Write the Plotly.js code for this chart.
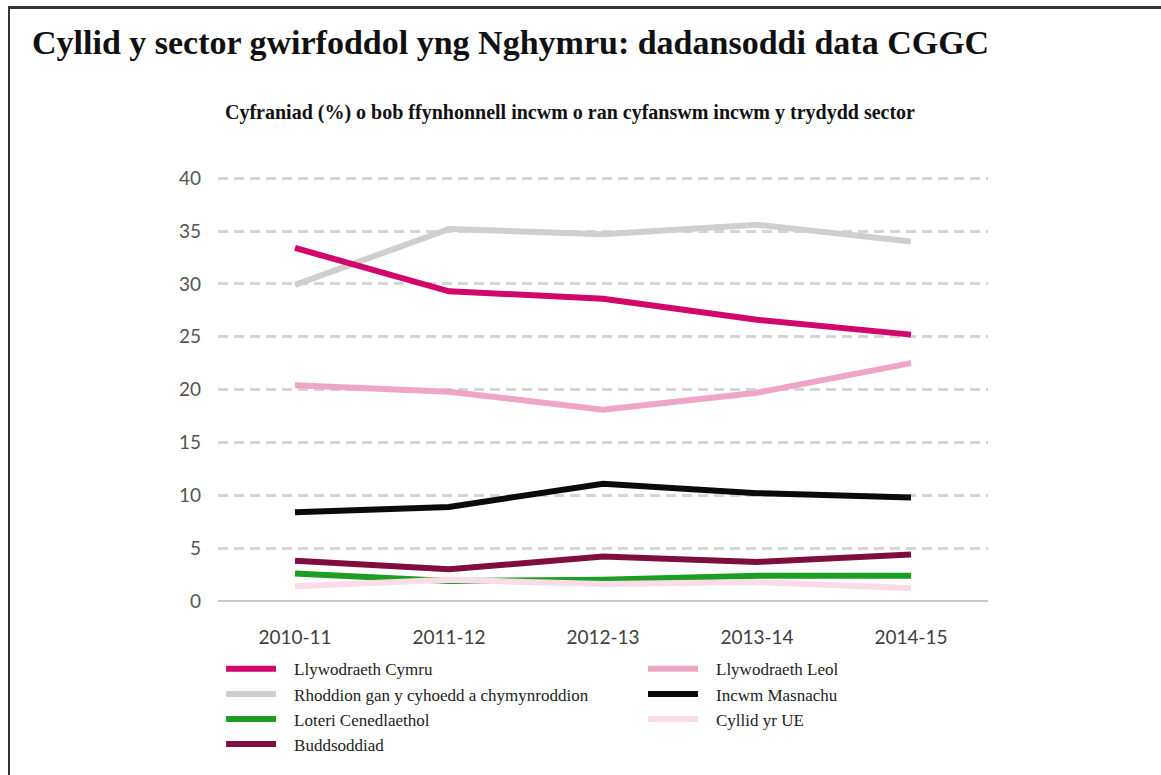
<!DOCTYPE html>
<html>
<head>
<meta charset="utf-8">
<script src="https://cdn.plot.ly/plotly-3.0.1.min.js"></script>
<style>
  html, body { margin: 0; padding: 0; background: #fff; }
  #wrap { position: relative; width: 1161px; height: 775px; }
  #chart { width: 1161px; height: 775px; }
  #frame {
    position: absolute; left: 8px; top: 6px; right: 0; bottom: 0;
    border-top: 3px solid #333; border-left: 2px solid #333;
    pointer-events: none;
  }
</style>
</head>
<body>
<div id="wrap">
  <div id="chart"></div>
  <div id="frame"></div>
</div>
<script>
const years = ['2010-11', '2011-12', '2012-13', '2013-14', '2014-15'];
const yTicks = [0, 5, 10, 15, 20, 25, 30, 35, 40];

// percentage of total third-sector income, by source
const llywodraethCymru = [33.4, 29.3, 28.6, 26.6, 25.2];
const rhoddion = [29.9, 35.2, 34.7, 35.6, 34.0];
const loteri = [2.6, 1.9, 2.0, 2.4, 2.4];
const buddsoddiad = [3.8, 3.0, 4.2, 3.7, 4.4];
const llywodraethLeol = [20.4, 19.8, 18.1, 19.7, 22.5];
const incwmMasnachu = [8.4, 8.9, 11.1, 10.2, 9.8];
const cyllidUE = [1.4, 2.0, 1.6, 1.8, 1.2];

const series = [
  // drawing order (bottom to top)
  { name: 'Rhoddion gan y cyhoedd a chymynroddion', y: rhoddion, color: '#cfcfcf', legend: 'legend', rank: 2 },
  { name: 'Llywodraeth Leol', y: llywodraethLeol, color: '#eea5c6', legend: 'legend2', rank: 5 },
  { name: 'Incwm Masnachu', y: incwmMasnachu, color: '#0a0a0a', legend: 'legend2', rank: 6 },
  { name: 'Loteri Cenedlaethol', y: loteri, color: '#1b9e22', legend: 'legend', rank: 3 },
  { name: 'Cyllid yr UE', y: cyllidUE, color: '#fadbe8', legend: 'legend2', rank: 7 },
  { name: 'Buddsoddiad', y: buddsoddiad, color: '#7f0e3e', legend: 'legend', rank: 4 },
  { name: 'Llywodraeth Cymru', y: llywodraethCymru, color: '#d1076c', legend: 'legend', rank: 1 }
];

const traces = series.map((s) => ({
  type: 'scatter',
  mode: 'lines',
  x: years,
  y: s.y,
  name: s.name,
  legend: s.legend,
  legendrank: s.rank,
  line: { color: s.color, width: 6 },
  hoverinfo: 'x+y+name'
}));

const legendFont = { family: '"Liberation Serif", "DejaVu Serif", serif', size: 17, color: '#222' };

const layout = {
  width: 1161,
  height: 775,
  paper_bgcolor: '#fff',
  plot_bgcolor: '#fff',
  margin: { l: 218, r: 173, t: 175, b: 174 },
  font: { family: 'Lato, "Open Sans", sans-serif', color: '#444' },
  title: {
    text: 'Cyllid y sector gwirfoddol yng Nghymru: dadansoddi data CGGC',
    font: { family: '"Liberation Serif", "DejaVu Serif", serif', size: 34, color: '#111', weight: 'bold' },
    xref: 'container', x: 32 / 1161, xanchor: 'left',
    yref: 'container', y: 1 - 42 / 775, yanchor: 'middle'
  },
  annotations: [{
    text: 'Cyfraniad (%) o bob ffynhonnell incwm o ran cyfanswm incwm y trydydd sector',
    xref: 'paper', yref: 'paper', x: (570 - 218) / 770, y: (601 - 113) / 426,
    xanchor: 'center', yanchor: 'middle', showarrow: false,
    font: { family: '"Liberation Serif", "DejaVu Serif", serif', size: 20, color: '#111', weight: 'bold' }
  }],
  xaxis: {
    type: 'category',
    range: [-0.5, 4.5],
    showgrid: false,
    showline: false,
    zeroline: false,
    ticks: '',
    ticklabelstandoff: 23,
    tickfont: { size: 19, color: '#404040' }
  },
  yaxis: {
    range: [0, 40.3],
    tickvals: yTicks,
    ticks: '',
    ticklabelstandoff: 16,
    tickfont: { size: 19, color: '#555' },
    showgrid: true,
    gridcolor: '#d6d6d6',
    gridwidth: 2.5,
    griddash: '10px,6px',
    zeroline: true,
    zerolinecolor: '#c8c8c8',
    zerolinewidth: 2,
    showline: false
  },
  showlegend: true,
  legend: {
    x: 0.004, xanchor: 'left', y: -0.118, yanchor: 'top',
    orientation: 'v', itemwidth: 63, tracegroupgap: 0,
    font: legendFont, bgcolor: 'rgba(0,0,0,0)'
  },
  legend2: {
    x: (643 - 218) / 770, xanchor: 'left', y: -0.118, yanchor: 'top',
    orientation: 'v', itemwidth: 63, tracegroupgap: 0,
    font: legendFont, bgcolor: 'rgba(0,0,0,0)'
  }
};

Plotly.newPlot('chart', traces, layout, { displayModeBar: false, responsive: false }).then(() => {
  // longer legend swatches, like the original
  document.querySelectorAll('.legendlines path').forEach((p) => p.setAttribute('d', 'M5,0h50'));
});
</script>
</body>
</html>
